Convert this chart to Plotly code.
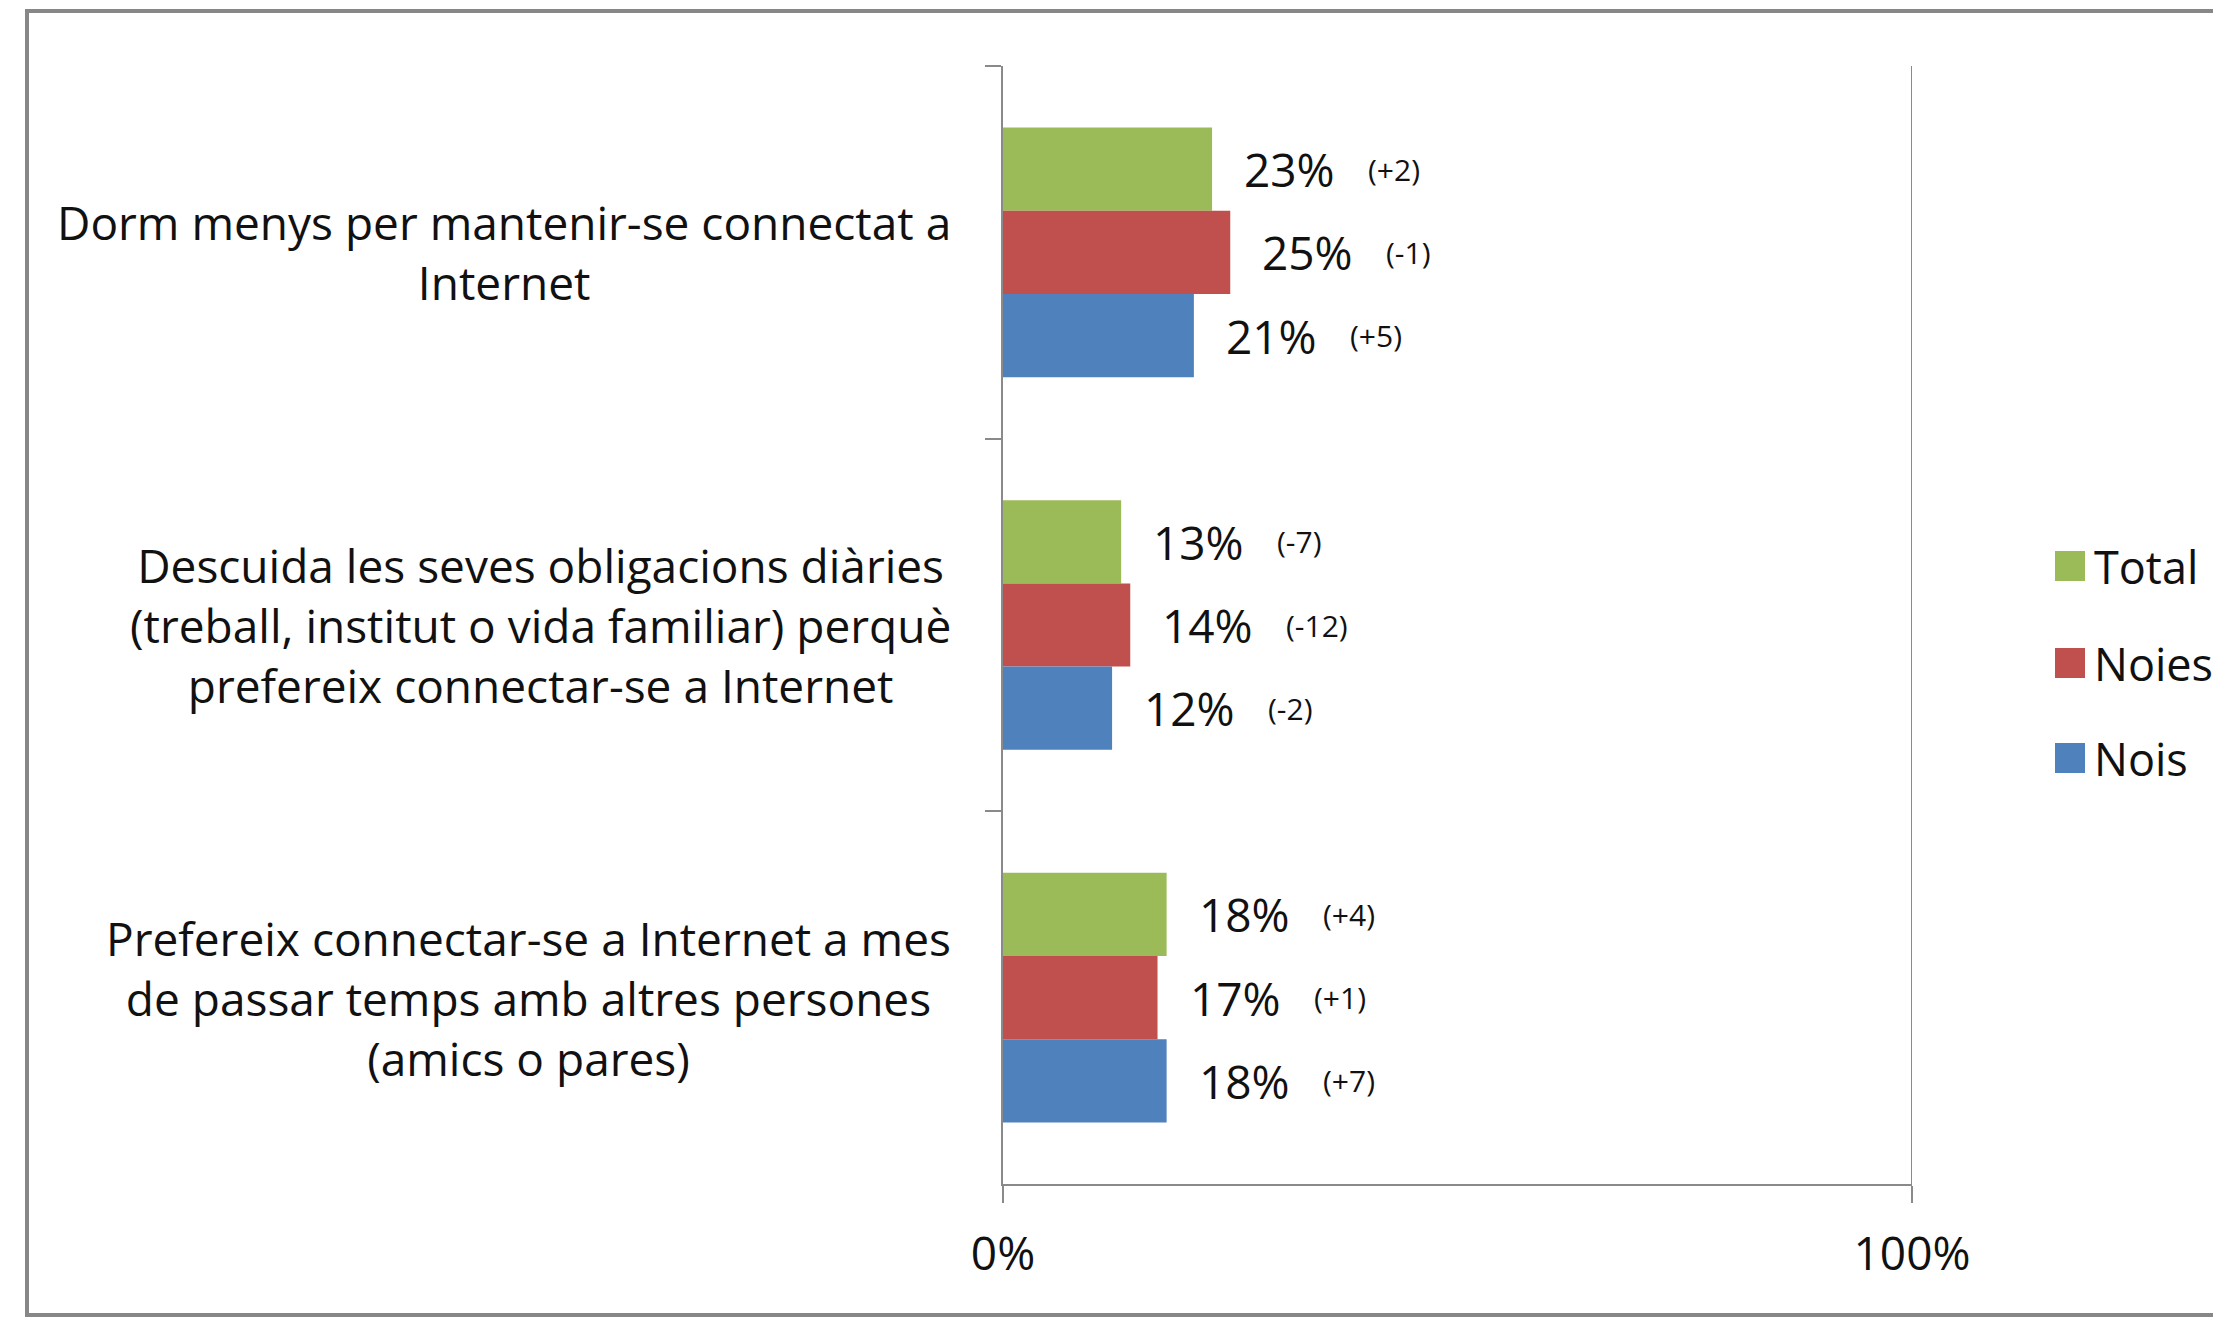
import plotly.graph_objects as go

categories = [
    "Dorm menys per mantenir-se connectat a<br>Internet",
    "Descuida les seves obligacions diàries<br>(treball, institut o vida familiar) perquè<br>prefereix connectar-se a Internet",
    "Prefereix connectar-se a Internet a mes<br>de passar temps amb altres persones<br>(amics o pares)",
]
series_names = ["Total", "Noies", "Nois"]
total = [23, 13, 18]
noies = [25, 14, 17]
nois = [21, 12, 18]
total_change = ["(+2)", "(-7)", "(+4)"]
noies_change = ["(-1)", "(-12)", "(+1)"]
nois_change = ["(+5)", "(-2)", "(+7)"]
x_tickvals = [0, 100]
x_ticktext = ["0%", "100%"]

colors = ["#9BBB59", "#C0504D", "#4F81BD"]
values = [total, noies, nois]
changes = [total_change, noies_change, nois_change]

W, H = 2221, 1318
OFF = 8  # page body margin
# plot area edges, in page pixels
L, R, T, B = 1003, 1912, 66, 1184
FONT = "Open Sans"
GRAY = "#8a8a8a"
BARGAP = 0.33
bar_w = (1 - BARGAP) / 3


def px_x(px):
    return (px - L) / (R - L)


def px_y(py):
    return (B - py) / (B - T)


fig = go.Figure()
for name, vals, col in zip(series_names, values, colors):
    fig.add_trace(go.Bar(
        y=categories, x=vals, name=name, orientation="h",
        marker=dict(color=col, line=dict(width=0)),
        showlegend=False,
    ))

annotations = []
for j, (vals, chg) in enumerate(zip(values, changes)):
    for i, v in enumerate(vals):
        yy = i + (j - 1) * bar_w
        annotations.append(dict(
            x=v, y=yy, xref="x", yref="y", text=f"{v}%", showarrow=False,
            xanchor="left", yanchor="middle", xshift=30,
            font=dict(family=FONT, size=46, color="#111111"),
        ))
        annotations.append(dict(
            x=v, y=yy, xref="x", yref="y", text=chg[i], showarrow=False,
            xanchor="left", yanchor="middle", xshift=154,
            font=dict(family=FONT, size=30, color="#111111"),
        ))

for i, cat in enumerate(categories):
    annotations.append(dict(
        x=0, y=i, xref="x", yref="y", text=cat, showarrow=False,
        xanchor="right", yanchor="middle", align="center", xshift=-50,
        font=dict(family=FONT, size=46, color="#111111"),
    ))

# legend drawn by hand, to get big square keys
shapes = []
legend_y = [566, 663, 758]
for name, col, yc in zip(series_names, colors, legend_y):
    shapes.append(dict(
        type="rect", xref="paper", yref="paper",
        x0=px_x(2055), x1=px_x(2085), y0=px_y(yc + 15), y1=px_y(yc - 15),
        fillcolor=col, line=dict(width=0),
    ))
    annotations.append(dict(
        x=px_x(2092), y=px_y(yc), xref="paper", yref="paper", text=name,
        showarrow=False, xanchor="left", yanchor="middle",
        font=dict(family=FONT, size=45, color="#111111"),
    ))

# 100% gridline (plotly drops the grid line at the range edge)
shapes.append(dict(
    type="line", xref="x", yref="paper",
    x0=x_tickvals[-1], x1=x_tickvals[-1], y0=0, y1=1,
    line=dict(color=GRAY, width=2),
))

# chart frame
shapes.append(dict(
    type="rect", xref="paper", yref="paper", layer="below",
    x0=px_x(27), x1=px_x(2300), y0=px_y(1315), y1=px_y(11),
    line=dict(color="#878787", width=4), fillcolor="rgba(0,0,0,0)",
))

fig.update_layout(
    width=W, height=H,
    margin=dict(l=L - OFF, r=W - R + OFF, t=T - OFF, b=H - B + OFF, pad=0),
    barmode="group", bargap=BARGAP, bargroupgap=0,
    plot_bgcolor="white", paper_bgcolor="white",
    font=dict(family=FONT, color="#111111"),
    annotations=annotations, shapes=shapes,
    xaxis=dict(
        range=[0, 100], tickvals=x_tickvals, ticktext=x_ticktext,
        showgrid=True, gridcolor=GRAY, gridwidth=2, zeroline=False,
        showline=True, linecolor=GRAY, linewidth=2,
        ticks="outside", ticklen=17, tickcolor=GRAY, tickwidth=2,
        ticklabelstandoff=12,
        tickfont=dict(family=FONT, size=46, color="#111111"),
    ),
    yaxis=dict(
        categoryorder="array", categoryarray=categories,
        autorange="reversed", showticklabels=False,
        showgrid=False, zeroline=False,
        showline=True, linecolor=GRAY, linewidth=2,
        ticks="outside", tickson="boundaries", ticklen=16,
        tickcolor=GRAY, tickwidth=2,
    ),
)

fig.write_html("out.html")
